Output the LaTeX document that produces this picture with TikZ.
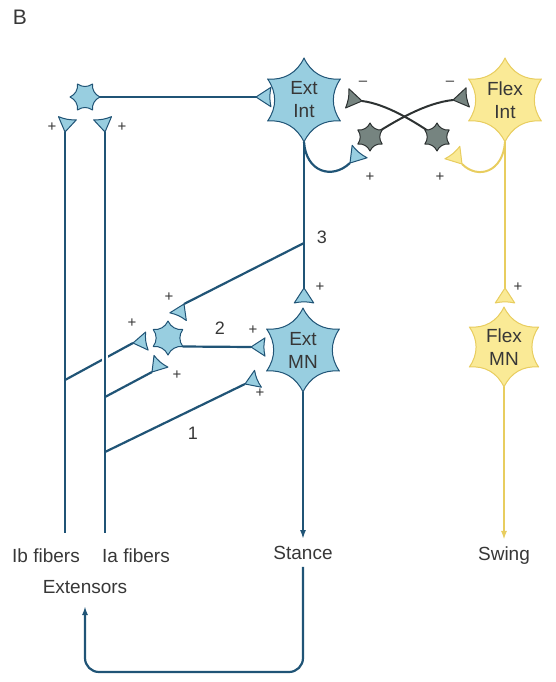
\documentclass[tikz,border=0pt]{standalone}
\usepackage{fontspec}
\setmainfont{Liberation Sans}
\usetikzlibrary{arrows.meta}
\definecolor{axon}{RGB}{32,84,118}
\definecolor{bfill}{RGB}{152,206,224}
\definecolor{yfill}{RGB}{250,234,150}
\definecolor{yline}{RGB}{232,205,95}
\definecolor{gfill}{RGB}{118,132,128}
\definecolor{gline}{RGB}{45,50,50}
\definecolor{txt}{RGB}{55,55,55}
% star-shaped cell: center, radius, tips, rotation, bend, style
\newcommand\cellstar[6]{\begin{scope}[shift={#1}]
  \path[#6] (#4:#2) \foreach \k in {1,...,#3}{ to[bend left=#5] ({#4+360*\k/#3}:#2)} -- cycle;
\end{scope}}
% synapse terminal: apex, direction, length, style
\newcommand\synapse[4]{\begin{scope}[shift={#1},rotate=#2]
  \path[#4] (0,0) -- (#3,{0.65*#3}) to[bend right=12] (#3,{-0.65*#3}) -- cycle;
\end{scope}}
\begin{document}
\begin{tikzpicture}[x=1pt,y=1pt,
  lbl/.style={font=\fontsize{19}{23}\selectfont,text=txt,inner sep=0pt,align=center},
  sgn/.style={font=\fontsize{15}{15}\selectfont,text=txt,inner sep=0pt},
  num/.style={font=\fontsize{18}{18}\selectfont,text=txt,inner sep=0pt},
  blueax/.style={draw=axon,line width=2.2pt},
  yellowax/.style={draw=yline,line width=2pt},
  grayax/.style={draw=gline,line width=2pt},
  bluecell/.style={fill=bfill,draw=axon,line width=1pt,line join=round},
  yellowcell/.style={fill=yfill,draw=yline,line width=1pt,line join=round},
  graycell/.style={fill=gfill,draw=gline,line width=1pt,line join=round},
  tipped/.style={-{Latex[length=9pt,width=6pt]}},
]
\path[use as bounding box] (0,0) rectangle (555,-682);

% coordinates
\coordinate (ibin) at (85,-97);
\coordinate (ibinout) at (99,-97);
\coordinate (synEIleft) at (256,-97);
\coordinate (extint) at (304,-100);
\coordinate (extintbot) at (304,-142);
\coordinate (flexint) at (505,-100);
\coordinate (flexintbot) at (505,-142);
\coordinate (gL) at (370,-137);
\coordinate (gR) at (437,-137);
\coordinate (synGL) at (362,-101);
\coordinate (synGR) at (453,-100);
\coordinate (synBrec) at (350,-163);
\coordinate (synYrec) at (462,-164);
\coordinate (synEMNtop) at (304,-288);
\coordinate (synFMNtop) at (505,-288);
\coordinate (extmn) at (303,-350);
\coordinate (extmnbot) at (303,-392);
\coordinate (flexmn) at (504,-347);
\coordinate (flexmnbot) at (504,-387);
\coordinate (iain) at (168,-338);
\coordinate (iainout) at (182.7,-346.5);
\coordinate (synEMNleft) at (251,-347);
\coordinate (synEMNlow) at (245,-384);
\coordinate (synIAtop) at (184,-304);
\coordinate (synIAleft) at (133,-343);
\coordinate (synIAlow) at (152,-372);
\coordinate (synIb) at (65,-132);
\coordinate (synIa) at (105,-132);
\coordinate (ibbot) at (65,-533);
\coordinate (iabot) at (105,-533);
\coordinate (ibbr) at (65,-380);
\coordinate (iabr1) at (105,-397);
\coordinate (iabr2) at (105,-452);
\coordinate (br3) at (304,-243);
\coordinate (cross) at (105,-358);
\coordinate (extarrow) at (85,-606);

% text nodes
\node[lbl,font=\fontsize{21}{21}\selectfont] (B) at (20,-17) {B};
\node[lbl] (ibfib) at (46,-556) {Ib fibers};
\node[lbl] (iafib) at (136,-556) {Ia fibers};
\node[lbl] (extensors) at (85,-587) {Extensors};
\node[lbl] (stance) at (303,-553) {Stance};
\node[lbl] (swing) at (504,-556) {Swing};

% afferent fibers
\draw[blueax] (synIb) -- (ibbot);
\draw[blueax] (ibbr) -- (synIAleft);
\draw[white,line width=6pt] (cross) ++(0,6) -- ++(0,-12);
\draw[blueax] (synIa) -- (iabot);
\draw[blueax] (iabr1) -- (synIAlow);
\draw[blueax] (iabr2) -- (synEMNlow);
\draw[blueax] (br3) -- (synIAtop);
\draw[blueax] (ibinout) -- (synEIleft);
\draw[blueax] (iainout) -- (synEMNleft);

% Ext Int axon and collateral
\draw[blueax] (extintbot) -- (synEMNtop);
\draw[blueax] (extintbot) .. controls (306,-172) and (332,-180) .. (synBrec);
% Flex Int axon and collateral
\draw[yellowax] (flexintbot) -- (synFMNtop);
\draw[yellowax] (flexintbot) .. controls (503,-172) and (478,-180) .. (synYrec);
% crossed inhibitory
\draw[grayax] (gL) .. controls (395,-121) and (425,-103) .. (synGR);
\draw[grayax] (gR) .. controls (414,-121) and (386,-104) .. (synGL);

% outputs
\draw[blueax,tipped] (extmnbot) -- ([yshift=7pt]stance.north);
\draw[yellowax,tipped] (flexmnbot) -- ([yshift=7pt]swing.north);
\draw[blueax,tipped,rounded corners=14pt] ([yshift=-7pt]stance.south) |- (85,-672) -- (extarrow);

% cells
\cellstar{(ibin)}{15}{6}{0}{35}{bluecell}
\cellstar{(iain)}{17}{6}{90}{35}{bluecell}
\cellstar{(extint)}{42}{6}{90}{35}{bluecell}
\cellstar{(extmn)}{42}{6}{90}{35}{bluecell}
\cellstar{(flexint)}{42}{6}{90}{35}{yellowcell}
\cellstar{(flexmn)}{40}{6}{90}{35}{yellowcell}
\cellstar{(gL)}{14}{6}{90}{35}{graycell}
\cellstar{(gR)}{14}{6}{90}{35}{graycell}

% synapses
\synapse{(synEIleft)}{0}{15}{bluecell}
\synapse{(synIb)}{80}{14}{bluecell}
\synapse{(synIa)}{100}{14}{bluecell}
\synapse{(synEMNtop)}{-90}{15}{bluecell}
\synapse{(synEMNleft)}{0}{14}{bluecell}
\synapse{(synEMNlow)}{22}{14}{bluecell}
\synapse{(synIAtop)}{245}{14}{bluecell}
\synapse{(synIAleft)}{8}{14}{bluecell}
\synapse{(synIAlow)}{50}{14}{bluecell}
\synapse{(synBrec)}{50}{15}{bluecell}
\synapse{(synYrec)}{130}{15}{yellowcell}
\synapse{(synFMNtop)}{-90}{15}{yellowcell}
\synapse{(synGL)}{170}{15}{graycell}
\synapse{(synGR)}{10}{15}{graycell}

% cell labels
\node[lbl] (extintT) at (extint) {Ext\\Int};
\node[lbl] (flexintT) at (flexint) {Flex\\Int};
\node[lbl] (extmnT) at (extmn) {Ext\\MN};
\node[lbl] (flexmnT) at (flexmn) {Flex\\MN};

% numbers
\node[num] (n3) at (322,-237) {3};
\node[num] (n2) at (220,-328) {2};
\node[num] (n1) at (193,-433) {1};

% signs
\node[sgn] (p1) at (52,-127) {+};
\node[sgn] (p2) at (122,-127) {+};
\node[sgn] (p3) at (370,-177) {+};
\node[sgn] (p4) at (440,-177) {+};
\node[sgn] (p5) at (320,-287) {+};
\node[sgn] (p6) at (518,-287) {+};
\node[sgn] (p7) at (169,-297) {+};
\node[sgn] (p8) at (132,-323) {+};
\node[sgn] (p9) at (177,-375) {+};
\node[sgn] (p10) at (253,-330) {+};
\node[sgn] (p11) at (260,-393) {+};
\node[sgn] (m1) at (363,-83) {–};
\node[sgn] (m2) at (450,-83) {–};
\end{tikzpicture}
\end{document}
